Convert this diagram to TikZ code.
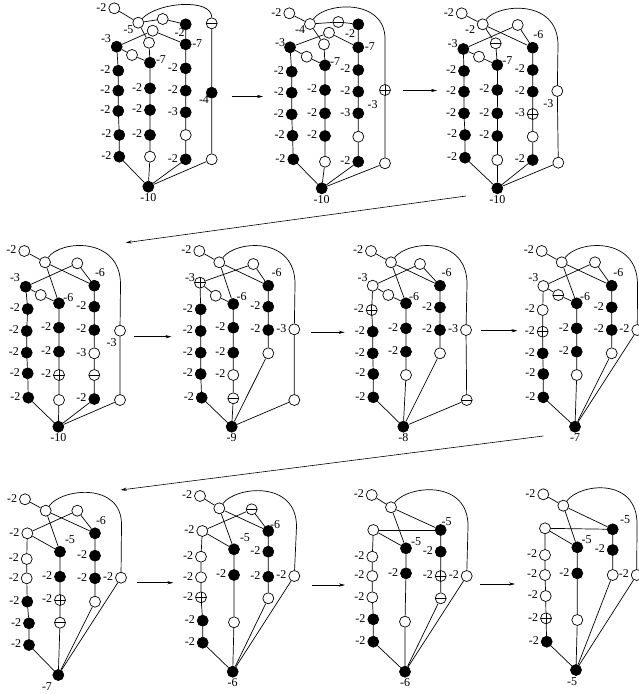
\documentclass[tikz,border=0pt]{standalone}
\usepackage{fontspec}
\setmainfont{Liberation Serif}
\usetikzlibrary{arrows.meta}
\tikzset{
 vtx/.style={circle, draw, line width=0.7pt, minimum size=11pt, inner sep=0pt},
 wn/.style={vtx, fill=white},
 bn/.style={vtx, fill=black},
 mn/.style={wn, path picture={\draw[line width=0.6pt] (path picture bounding box.west) -- (path picture bounding box.east);}},
 pn/.style={wn, path picture={\draw[line width=0.6pt] (path picture bounding box.west) -- (path picture bounding box.east) (path picture bounding box.north) -- (path picture bounding box.south);}},
 lab/.style={inner sep=0.5pt, font=\fontsize{12}{13}\selectfont},
 edge/.style={line width=0.7pt},
 arr/.style={line width=0.6pt, -{Stealth[length=6pt,width=3.2pt]}},
}
\newcommand\labl[3]{\node[lab,anchor=east] (#1) at ([xshift=-1.3pt,yshift=1pt]#2.west) {#3};}
\newcommand\labr[3]{\node[lab,anchor=west] (#1) at ([xshift=0pt,yshift=0.5pt]#2.east) {#3};}
\newcommand\laba[3]{\node[lab] (#1) at (#2) {#3};}
\newcommand\labz[2]{\node[lab,anchor=north] (#1) at ([yshift=-0.5pt]z.south) {#2};}
\begin{document}
\begin{tikzpicture}[x=1pt,y=-1pt]
\useasboundingbox (0,0) rectangle (639,694);
% ---------------- Panel 1
\begin{scope}[name prefix=p1-]
\node[wn] (t) at (114.3,8.3) {};
\node[wn] (b) at (138.3,22.7) {};
\node[wn] (c) at (162.7,19) {};
\node[bn] (d) at (185.7,24.3) {};
\node[wn] (e) at (152.7,30.7) {};
\node[wn] (f) at (149,42.7) {};
\node[bn] (g) at (116.7,46.7) {};
\node[bn] (h) at (185.7,44.3) {};
\node[wn] (i) at (132,55) {};
\node[bn] (j) at (150,62.7) {};
\node[bn] (L1) at (118.3,70.7) {};
\node[bn] (L2) at (118.3,90.7) {};
\node[bn] (L3) at (118.3,111) {};
\node[bn] (L4) at (119.3,135) {};
\node[bn] (L5) at (119.3,156.7) {};
\node[bn] (M1) at (150,88.3) {};
\node[bn] (M2) at (150,110) {};
\node[bn] (M3) at (150,135) {};
\node[wn] (M4) at (150,156.7) {};
\node[bn] (R1) at (185.7,68.3) {};
\node[bn] (R2) at (185.7,90.7) {};
\node[bn] (R3) at (185.7,112.3) {};
\node[wn] (R4) at (185.7,135) {};
\node[bn] (R5) at (185.7,159.3) {};
\node[mn] (F0) at (211.7,23.3) {};
\node[bn] (F1) at (211.7,92.7) {};
\node[wn] (F2) at (211.7,159.3) {};
\node[bn] (z) at (148.3,186.7) {};
\draw[edge] (t) -- (b) -- (c) -- (d) -- (h);
\draw[edge] (b) -- (f) -- (j);
\draw[edge] (g) -- (e) -- (h);
\draw[edge] (g) -- (i) -- (j);
\draw[edge] (g) -- (L1) -- (L2) -- (L3) -- (L4) -- (L5) -- (z);
\draw[edge] (j) -- (M1) -- (M2) -- (M3) -- (M4) -- (z);
\draw[edge] (h) -- (R1) -- (R2) -- (R3) -- (R4) -- (R5) -- (z);
\draw[edge] (b) .. controls (158,2) and (212,-2) .. (F0);
\draw[edge] (F0) -- (F1) -- (F2) -- (z);
\labl{lt}{t}{-2} \laba{lb}{128.5,29.5}{-5} \laba{ld}{179.7,33}{-2}
\laba{lg}{106,38.3}{-3} \labr{lh}{h}{-7} \laba{lj}{161,60}{-7}
\labl{lL1}{L1}{-2} \labl{lL2}{L2}{-2} \labl{lL3}{L3}{-2} \labl{lL4}{L4}{-2} \labl{lL5}{L5}{-2}
\labl{lM1}{M1}{-2} \labl{lM2}{M2}{-2} \labl{lM3}{M3}{-2}
\labl{lR1}{R1}{-2} \labl{lR2}{R2}{-2} \labl{lR3}{R3}{-3} \labl{lR5}{R5}{-2}
\laba{lF1}{204,100}{-4} \labz{lz}{-10}
\end{scope}
% ---------------- Panel 2
\begin{scope}[name prefix=p2-]
\node[wn] (t) at (289.3,13.3) {};
\node[wn] (b) at (310,24) {};
\node[mn] (c) at (338.3,22) {};
\node[bn] (d) at (358.3,24.3) {};
\node[wn] (e) at (329,32.7) {};
\node[wn] (f) at (324,44.3) {};
\node[bn] (g) at (290,47.3) {};
\node[bn] (h) at (358.3,47.3) {};
\node[wn] (i) at (306.7,56.7) {};
\node[bn] (j) at (325,65.3) {};
\node[bn] (L1) at (291.7,71.7) {};
\node[bn] (L2) at (291.7,92.7) {};
\node[bn] (L3) at (291.7,114.3) {};
\node[bn] (L4) at (292.5,135.7) {};
\node[bn] (L5) at (293.3,159.3) {};
\node[bn] (M1) at (325,90) {};
\node[bn] (M2) at (325,113.3) {};
\node[bn] (M3) at (325,136) {};
\node[wn] (M4) at (325,161.7) {};
\node[bn] (R1) at (358.3,70) {};
\node[bn] (R2) at (358.3,91.7) {};
\node[bn] (R3) at (358.3,113.3) {};
\node[wn] (R4) at (358.3,136.7) {};
\node[bn] (R5) at (358.3,161.7) {};
\coordinate (k) at (385,40);
\node[pn] (F1) at (385,90) {};
\node[wn] (F2) at (385,163.3) {};
\node[bn] (z) at (321.7,188.3) {};
\draw[edge] (t) -- (b) -- (c) -- (d) -- (h);
\draw[edge] (b) -- (f) -- (j);
\draw[edge] (g) -- (e) -- (h);
\draw[edge] (g) -- (i) -- (j);
\draw[edge] (g) -- (L1) -- (L2) -- (L3) -- (L4) -- (L5) -- (z);
\draw[edge] (j) -- (M1) -- (M2) -- (M3) -- (M4) -- (z);
\draw[edge] (h) -- (R1) -- (R2) -- (R3) -- (R4) -- (R5) -- (z);
\draw[edge] (b) .. controls (325,2) and (386,-2) .. (k) -- (F1);
\draw[edge] (F1) -- (F2) -- (z);
\labl{lt}{t}{-2} \laba{lb}{300,29.3}{-4} \laba{ld}{350,33.3}{-2}
\laba{lg}{280,42.7}{-3} \labr{lh}{h}{-7} \laba{lj}{335,61.7}{-7}
\labl{lL1}{L1}{-2} \labl{lL2}{L2}{-2} \labl{lL3}{L3}{-2} \labl{lL4}{L4}{-2} \labl{lL5}{L5}{-2}
\labl{lM1}{M1}{-2} \labl{lM2}{M2}{-2} \labl{lM3}{M3}{-2}
\labl{lR1}{R1}{-2} \labl{lR2}{R2}{-2} \labl{lR3}{R3}{-3} \labl{lR5}{R5}{-2}
\laba{lF1}{372.7,104.3}{-3} \labz{lz}{-10}
\end{scope}
% ---------------- Panel 3
\begin{scope}[name prefix=p3-]
\node[wn] (t) at (461.7,13.3) {};
\node[wn] (b) at (482.7,24.3) {};
\node[wn] (e) at (517.7,25) {};
\node[mn] (f) at (495.7,43.3) {};
\node[bn] (g) at (463.3,49) {};
\node[bn] (h) at (532.7,47.7) {};
\node[wn] (i) at (479,56.7) {};
\node[bn] (j) at (497.3,65) {};
\node[bn] (L1) at (464,71) {};
\node[bn] (L2) at (464,91.7) {};
\node[bn] (L3) at (464,113.3) {};
\node[bn] (L4) at (465,135) {};
\node[bn] (L5) at (465,157.7) {};
\node[bn] (M1) at (497.3,90) {};
\node[bn] (M2) at (497.3,113.3) {};
\node[bn] (M3) at (497.3,136) {};
\node[wn] (M4) at (497.3,160) {};
\node[bn] (R1) at (532.7,70) {};
\node[bn] (R2) at (532.7,91.7) {};
\node[pn] (R3) at (532.7,114) {};
\node[wn] (R4) at (532.7,136.7) {};
\node[bn] (R5) at (532.7,160) {};
\coordinate (k) at (558,45);
\node[wn] (F1) at (557.3,91) {};
\node[wn] (F2) at (558.3,162.7) {};
\node[bn] (z) at (497.3,188.3) {};
\draw[edge] (t) -- (b) -- (h);
\draw[edge] (b) -- (f) -- (j);
\draw[edge] (g) -- (e) -- (h);
\draw[edge] (g) -- (i) -- (j);
\draw[edge] (g) -- (L1) -- (L2) -- (L3) -- (L4) -- (L5) -- (z);
\draw[edge] (j) -- (M1) -- (M2) -- (M3) -- (M4) -- (z);
\draw[edge] (h) -- (R1) -- (R2) -- (R3) -- (R4) -- (R5) -- (z);
\draw[edge] (b) .. controls (497,4) and (558,-2) .. (k) -- (F1);
\draw[edge] (F1) -- (F2) -- (z);
\labl{lt}{t}{-2} \laba{lb}{470,29.3}{-2}
\laba{lg}{452.7,43.3}{-3} \laba{lh}{538.3,35}{-6} \laba{lj}{507.3,60.7}{-7}
\labl{lL1}{L1}{-2} \labl{lL2}{L2}{-2} \labl{lL3}{L3}{-2} \labl{lL4}{L4}{-2} \labl{lL5}{L5}{-2}
\labl{lM1}{M1}{-2} \labl{lM2}{M2}{-2} \labl{lM3}{M3}{-2}
\labl{lR1}{R1}{-2} \labl{lR2}{R2}{-2} \labl{lR3}{R3}{-3} \labl{lR5}{R5}{-2}
\laba{lF1}{548.3,104}{-3} \labz{lz}{-10}
\end{scope}
% ---------------- Panel 4
\begin{scope}[name prefix=p4-]
\node[wn] (t) at (24.3,251) {};
\node[wn] (b) at (45,262.3) {};
\node[wn] (e) at (77.3,263.3) {};
\node[bn] (g) at (25.7,286.7) {};
\node[bn] (h) at (94.3,285.7) {};
\node[wn] (i) at (40.7,295) {};
\node[bn] (j) at (59,303.3) {};
\node[bn] (L1) at (27.7,309) {};
\node[bn] (L2) at (26.7,331) {};
\node[bn] (L3) at (26.7,352.7) {};
\node[bn] (L4) at (27.7,373.3) {};
\node[bn] (L5) at (28.3,397.7) {};
\node[bn] (M1) at (59,327.7) {};
\node[bn] (M2) at (59,351.7) {};
\node[pn] (M3) at (59,375) {};
\node[wn] (M4) at (59,400) {};
\node[bn] (R1) at (94.3,306.7) {};
\node[bn] (R2) at (94.3,330) {};
\node[wn] (R3) at (94.3,353.3) {};
\node[mn] (R4) at (94.3,375) {};
\node[bn] (R5) at (94.3,399) {};
\coordinate (k) at (120.5,285);
\node[wn] (F1) at (120,330.7) {};
\node[wn] (F2) at (120,400) {};
\node[bn] (z) at (58.3,426.7) {};
\draw[edge] (t) -- (b) -- (h);
\draw[edge] (b) -- (j);
\draw[edge] (g) -- (e) -- (h);
\draw[edge] (g) -- (i) -- (j);
\draw[edge] (g) -- (L1) -- (L2) -- (L3) -- (L4) -- (L5) -- (z);
\draw[edge] (j) -- (M1) -- (M2) -- (M3) -- (M4) -- (z);
\draw[edge] (h) -- (R1) -- (R2) -- (R3) -- (R4) -- (R5) -- (z);
\draw[edge] (b) .. controls (60,240) and (121,236) .. (k) -- (F1);
\draw[edge] (F1) -- (F2) -- (z);
\labl{lt}{t}{-2}
\laba{lg}{15,277.3}{-3} \laba{lh}{100,272.7}{-6} \laba{lj}{68.3,297.3}{-6}
\labl{lL1}{L1}{-2} \labl{lL2}{L2}{-2} \labl{lL3}{L3}{-2} \labl{lL4}{L4}{-2} \labl{lL5}{L5}{-2}
\labl{lM1}{M1}{-2} \labl{lM2}{M2}{-2} \labl{lM3}{M3}{-2}
\labl{lR1}{R1}{-2} \labl{lR2}{R2}{-2} \labl{lR3}{R3}{-3} \labl{lR5}{R5}{-2}
\laba{lF1}{111.7,342.7}{-3} \labz{lz}{-10}
\end{scope}
% ---------------- Panel 5
\begin{scope}[name prefix=p5-]
\node[wn] (t) at (199.3,251) {};
\node[wn] (b) at (219.3,262.3) {};
\node[wn] (e) at (253.3,264) {};
\node[pn] (g) at (200,282.7) {};
\node[bn] (h) at (268.3,285.7) {};
\node[wn] (i) at (215.7,295.7) {};
\node[bn] (j) at (233.3,304) {};
\node[bn] (L1) at (200.7,309.3) {};
\node[bn] (L2) at (200.7,331) {};
\node[bn] (L3) at (200.7,352.7) {};
\node[bn] (L4) at (200.7,374) {};
\node[bn] (L5) at (201.7,397.7) {};
\node[bn] (M1) at (233.3,327.7) {};
\node[bn] (M2) at (233.3,352.7) {};
\node[wn] (M3) at (233.3,375) {};
\node[mn] (M4) at (233.3,398.3) {};
\node[bn] (R1) at (268.3,306.7) {};
\node[bn] (R2) at (268.3,330) {};
\node[wn] (R3) at (268.3,353.3) {};
\coordinate (k) at (295,285);
\node[wn] (F1) at (294.3,329.3) {};
\node[wn] (F2) at (294.3,400) {};
\node[bn] (z) at (231.7,426.7) {};
\draw[edge] (t) -- (b) -- (h);
\draw[edge] (b) -- (j);
\draw[edge] (g) -- (e) -- (h);
\draw[edge] (g) -- (i) -- (j);
\draw[edge] (g) -- (L1) -- (L2) -- (L3) -- (L4) -- (L5) -- (z);
\draw[edge] (j) -- (M1) -- (M2) -- (M3) -- (M4) -- (z);
\draw[edge] (h) -- (R1) -- (R2) -- (R3) -- (z);
\draw[edge] (b) .. controls (236,240) and (296,236) .. (k) -- (F1);
\draw[edge] (F1) -- (F2) -- (z);
\labl{lt}{t}{-2}
\laba{lg}{190,277.3}{-3} \laba{lh}{276.7,272.7}{-6} \laba{lj}{241.7,296.7}{-6}
\labl{lL1}{L1}{-2} \labl{lL2}{L2}{-2} \labl{lL3}{L3}{-2} \labl{lL4}{L4}{-2} \labl{lL5}{L5}{-2}
\labl{lM1}{M1}{-2} \labl{lM2}{M2}{-2} \labl{lM3}{M3}{-2}
\labl{lR1}{R1}{-2} \labl{lR2}{R2}{-2}
\labl{lF1}{F1}{-3} \labz{lz}{-9}
\end{scope}
% ---------------- Panel 6
\begin{scope}[name prefix=p6-]
\node[wn] (t) at (371,251) {};
\node[wn] (b) at (391,262.3) {};
\node[wn] (e) at (420,264) {};
\node[wn] (g) at (372.7,285.7) {};
\node[bn] (h) at (440,285.7) {};
\node[wn] (i) at (388.3,295) {};
\node[bn] (j) at (406,303.3) {};
\node[pn] (L1) at (371.7,310) {};
\node[bn] (L2) at (372.7,331.7) {};
\node[bn] (L3) at (372.7,353.3) {};
\node[bn] (L4) at (373.3,374) {};
\node[bn] (L5) at (373.3,397.3) {};
\node[bn] (M1) at (406,328.3) {};
\node[bn] (M2) at (406,351.7) {};
\node[wn] (M3) at (406,375) {};
\node[bn] (R1) at (440,307.3) {};
\node[bn] (R2) at (440,330) {};
\node[wn] (R3) at (440,353.3) {};
\coordinate (k) at (467,285);
\node[wn] (F1) at (466,330) {};
\node[mn] (F2) at (466.7,400) {};
\node[bn] (z) at (403.3,426.7) {};
\draw[edge] (t) -- (b) -- (h);
\draw[edge] (b) -- (j);
\draw[edge] (g) -- (e) -- (h);
\draw[edge] (g) -- (i) -- (j);
\draw[edge] (g) -- (L1) -- (L2) -- (L3) -- (L4) -- (L5) -- (z);
\draw[edge] (j) -- (M1) -- (M2) -- (M3) -- (z);
\draw[edge] (h) -- (R1) -- (R2) -- (R3) -- (z);
\draw[edge] (b) .. controls (408,240) and (468,236) .. (k) -- (F1);
\draw[edge] (F1) -- (F2) -- (z);
\labl{lt}{t}{-2}
\laba{lg}{362.7,277.3}{-3} \laba{lh}{446.7,272.7}{-6} \laba{lj}{414,296.7}{-6}
\labl{lL1}{L1}{-2} \labl{lL2}{L2}{-2} \labl{lL3}{L3}{-2} \labl{lL4}{L4}{-2} \labl{lL5}{L5}{-2}
\labl{lM1}{M1}{-2} \labl{lM2}{M2}{-2}
\labl{lR1}{R1}{-2} \labl{lR2}{R2}{-2}
\labl{lF1}{F1}{-3} \labz{lz}{-8}
\end{scope}
% ---------------- Panel 7
\begin{scope}[name prefix=p7-]
\node[wn] (t) at (541.7,251) {};
\node[wn] (b) at (561.7,262.3) {};
\node[wn] (e) at (595,262.3) {};
\node[wn] (g) at (543.3,286) {};
\node[bn] (h) at (611.7,285.7) {};
\node[mn] (i) at (558.3,295) {};
\node[bn] (j) at (576.7,303.3) {};
\node[wn] (L1) at (542.7,310) {};
\node[pn] (L2) at (542.7,331.7) {};
\node[bn] (L3) at (542.7,353.3) {};
\node[bn] (L4) at (543.3,374) {};
\node[bn] (L5) at (543.3,397.3) {};
\node[bn] (M1) at (576.7,328.3) {};
\node[bn] (M2) at (576.7,351.7) {};
\node[wn] (M3) at (576.7,375) {};
\node[bn] (R1) at (611.7,307.3) {};
\node[bn] (R2) at (611.7,330) {};
\node[wn] (R3) at (611.7,353.3) {};
\coordinate (k) at (637.5,285);
\node[wn] (F1) at (637.3,330) {};
\node[bn] (z) at (575,426.7) {};
\draw[edge] (t) -- (b) -- (h);
\draw[edge] (b) -- (j);
\draw[edge] (g) -- (e) -- (h);
\draw[edge] (g) -- (i) -- (j);
\draw[edge] (g) -- (L1) -- (L2) -- (L3) -- (L4) -- (L5) -- (z);
\draw[edge] (j) -- (M1) -- (M2) -- (M3) -- (z);
\draw[edge] (h) -- (R1) -- (R2) -- (R3) -- (z);
\draw[edge] (b) .. controls (578,240) and (638,236) .. (k) -- (F1);
\draw[edge] (F1) -- (z);
\labl{lt}{t}{-2}
\laba{lg}{533.3,277.3}{-3} \laba{lh}{618.3,272.7}{-6} \laba{lj}{585,296.7}{-6}
\labl{lL1}{L1}{-2} \labl{lL2}{L2}{-2} \labl{lL3}{L3}{-2} \labl{lL4}{L4}{-2} \labl{lL5}{L5}{-2}
\labl{lM1}{M1}{-2} \labl{lM2}{M2}{-2}
\labl{lR1}{R1}{-2} \labl{lR2}{R2}{-2}
\labl{lF1}{F1}{-2} \labz{lz}{-7}
\end{scope}
% ---------------- Panel 8
\begin{scope}[name prefix=p8-]
\node[wn] (t) at (25,499.3) {};
\node[wn] (b) at (45.7,510.7) {};
\node[wn] (e) at (77.3,510.7) {};
\node[wn] (g) at (27.3,533.3) {};
\node[bn] (h) at (95,533.3) {};
\node[bn] (j) at (60,551.7) {};
\node[wn] (L1) at (26.7,559) {};
\node[wn] (L2) at (26.7,578.3) {};
\node[bn] (L3) at (27.3,601.7) {};
\node[bn] (L4) at (29,623.3) {};
\node[bn] (L5) at (29,645) {};
\node[bn] (M1) at (60,576.7) {};
\node[pn] (M2) at (60,600) {};
\node[mn] (M3) at (60,622.7) {};
\node[bn] (R1) at (95,555.7) {};
\node[bn] (R2) at (95,578.3) {};
\node[wn] (R3) at (95,601.7) {};
\coordinate (k) at (121.5,525);
\node[wn] (F1) at (121,577.7) {};
\node[bn] (z) at (58.3,675) {};
\draw[edge] (t) -- (b) -- (h);
\draw[edge] (b) -- (j);
\draw[edge] (g) -- (e) -- (h);
\draw[edge] (g) -- (j);
\draw[edge] (g) -- (L1) -- (L2) -- (L3) -- (L4) -- (L5) -- (z);
\draw[edge] (j) -- (M1) -- (M2) -- (M3) -- (z);
\draw[edge] (h) -- (R1) -- (R2) -- (R3) -- (z);
\draw[edge] (b) .. controls (62,488) and (122,482) .. (k) -- (F1);
\draw[edge] (F1) -- (z);
\labl{lt}{t}{-2} \labl{lg}{g}{-2}
\laba{lh}{101,521}{-6} \laba{lj}{70,540}{-5}
\labl{lL1}{L1}{-2} \labl{lL2}{L2}{-2} \labl{lL3}{L3}{-2} \labl{lL4}{L4}{-2} \labl{lL5}{L5}{-2}
\labl{lM1}{M1}{-2} \labl{lM2}{M2}{-2}
\labl{lR1}{R1}{-2} \labl{lR2}{R2}{-2}
\labl{lF1}{F1}{-2} \laba{lz}{47,687}{-7}
\end{scope}
% ---------------- Panel 9
\begin{scope}[name prefix=p9-]
\node[wn] (t) at (200,496) {};
\node[wn] (b) at (219.3,508.3) {};
\node[mn] (e) at (251.7,509.3) {};
\node[wn] (g) at (202.3,531) {};
\node[bn] (h) at (268.3,531) {};
\node[bn] (j) at (234,549.3) {};
\node[wn] (L1) at (201,556.7) {};
\node[wn] (L2) at (201,577.3) {};
\node[pn] (L3) at (201,597.3) {};
\node[bn] (L4) at (202.7,620.7) {};
\node[bn] (L5) at (202.7,642.7) {};
\node[bn] (M1) at (234,575) {};
\node[wn] (M2) at (234,622.3) {};
\node[bn] (R1) at (268.3,551.7) {};
\node[bn] (R2) at (268.3,576.7) {};
\node[wn] (R3) at (268.3,598.3) {};
\coordinate (k) at (296.5,527);
\node[wn] (F1) at (294.3,576) {};
\node[bn] (z) at (232.7,671.7) {};
\draw[edge] (t) -- (b) -- (h);
\draw[edge] (b) -- (j);
\draw[edge] (g) -- (e) -- (h);
\draw[edge] (g) -- (j);
\draw[edge] (g) -- (L1) -- (L2) -- (L3) -- (L4) -- (L5) -- (z);
\draw[edge] (j) -- (M1) -- (M2) -- (z);
\draw[edge] (h) -- (R1) -- (R2) -- (R3) -- (z);
\draw[edge] (b) .. controls (236,486) and (297,480) .. (k) -- (F1);
\draw[edge] (F1) -- (z);
\labl{lt}{t}{-2} \labl{lg}{g}{-2}
\laba{lh}{275,525}{-6} \laba{lj}{245,537.3}{-5}
\labl{lL1}{L1}{-2} \labl{lL2}{L2}{-2} \labl{lL3}{L3}{-2} \labl{lL4}{L4}{-2} \labl{lL5}{L5}{-2}
\labl{lM1}{M1}{-2}
\labl{lR1}{R1}{-2} \labl{lR2}{R2}{-2}
\labl{lF1}{F1}{-2} \labz{lz}{-6}
\end{scope}
% ---------------- Panel 10
\begin{scope}[name prefix=p10-]
\node[wn] (t) at (371.7,495) {};
\node[wn] (b) at (391,507.3) {};
\node[wn] (g) at (373.3,530) {};
\node[bn] (h) at (440.7,530) {};
\node[bn] (j) at (406,548.3) {};
\node[wn] (L1) at (372.3,556.7) {};
\node[wn] (L2) at (372.3,576) {};
\node[wn] (L3) at (372.3,597.3) {};
\node[bn] (L4) at (373.3,619.3) {};
\node[bn] (L5) at (373.3,641.7) {};
\node[bn] (M1) at (406,573.3) {};
\node[wn] (M2) at (405,621.7) {};
\node[bn] (R1) at (440.7,551.7) {};
\node[pn] (R2) at (440.7,576) {};
\node[mn] (R3) at (440.7,598.3) {};
\coordinate (k) at (468,527);
\node[wn] (F1) at (466.7,576) {};
\node[bn] (z) at (405,671.7) {};
\draw[edge] (t) -- (b) -- (h);
\draw[edge] (b) -- (j);
\draw[edge] (g) -- (h);
\draw[edge] (g) -- (j);
\draw[edge] (g) -- (L1) -- (L2) -- (L3) -- (L4) -- (L5) -- (z);
\draw[edge] (j) -- (M1) -- (M2) -- (z);
\draw[edge] (h) -- (R1) -- (R2) -- (R3) -- (z);
\draw[edge] (b) .. controls (408,485) and (469,479) .. (k) -- (F1);
\draw[edge] (F1) -- (z);
\labl{lt}{t}{-2}
\laba{lh}{446.7,521.7}{-5} \laba{lj}{416,541.7}{-5}
\labl{lL1}{L1}{-2} \labl{lL2}{L2}{-2} \labl{lL3}{L3}{-2} \labl{lL4}{L4}{-2} \labl{lL5}{L5}{-2}
\labl{lM1}{M1}{-2}
\labl{lR1}{R1}{-2} \labl{lR2}{R2}{-2}
\labl{lF1}{F1}{-2} \labz{lz}{-6}
\end{scope}
% ---------------- Panel 11
\begin{scope}[name prefix=p11-]
\node[wn] (t) at (543.3,494.3) {};
\node[wn] (b) at (563.3,505.7) {};
\node[wn] (g) at (545,528.3) {};
\node[bn] (h) at (612.7,529.3) {};
\node[bn] (j) at (577.3,547.3) {};
\node[wn] (L1) at (545,555) {};
\node[wn] (L2) at (545,575) {};
\node[wn] (L3) at (545.7,596) {};
\node[pn] (L4) at (546,618.3) {};
\node[bn] (L5) at (546.7,641.7) {};
\node[bn] (M1) at (577.3,573.3) {};
\node[wn] (M2) at (577.3,620) {};
\node[bn] (R1) at (612.7,550) {};
\node[wn] (R2) at (612.7,575) {};
\coordinate (k) at (637,525);
\node[wn] (F1) at (636.7,575) {};
\node[bn] (z) at (576,670) {};
\draw[edge] (t) -- (b) -- (h);
\draw[edge] (b) -- (j);
\draw[edge] (g) -- (h);
\draw[edge] (g) -- (j);
\draw[edge] (g) -- (L1) -- (L2) -- (L3) -- (L4) -- (L5) -- (z);
\draw[edge] (j) -- (M1) -- (M2) -- (z);
\draw[edge] (h) -- (R1) -- (R2) -- (z);
\draw[edge] (b) .. controls (580,483) and (638,477) .. (k) -- (F1);
\draw[edge] (F1) -- (z);
\labl{lt}{t}{-2}
\laba{lh}{625,520}{-5} \laba{lj}{586.7,540}{-5}
\labl{lL1}{L1}{-2} \labl{lL2}{L2}{-2} \labl{lL3}{L3}{-2} \labl{lL4}{L4}{-2} \labl{lL5}{L5}{-2}
\labl{lM1}{M1}{-2}
\labl{lR1}{R1}{-2}
\labl{lF1}{F1}{-2} \laba{lz}{572,682}{-5}
\end{scope}
% ---------------- arrows
\coordinate (a1s) at (231.5,96.5); \coordinate (a1e) at (263,96.5);
\coordinate (a2s) at (403,90.5); \coordinate (a2e) at (437,90.5);
\coordinate (a3s) at (466,196); \coordinate (a3e) at (125.8,242.7);
\coordinate (a4s) at (134.4,336.7); \coordinate (a4e) at (171.5,336.7);
\coordinate (a5s) at (311.3,332.3); \coordinate (a5e) at (344.7,332.3);
\coordinate (a6s) at (481.4,330.7); \coordinate (a6e) at (517.5,330.7);
\coordinate (a7s) at (543.3,436); \coordinate (a7e) at (120.6,490);
\coordinate (a8s) at (136.7,582.7); \coordinate (a8e) at (173.3,582.7);
\coordinate (a9s) at (311.7,585); \coordinate (a9e) at (345,585);
\coordinate (a10s) at (480,584); \coordinate (a10e) at (515,584);
\foreach \n in {1,...,10} {\draw[arr] (a\n s) -- (a\n e);}
\end{tikzpicture}
\end{document}
